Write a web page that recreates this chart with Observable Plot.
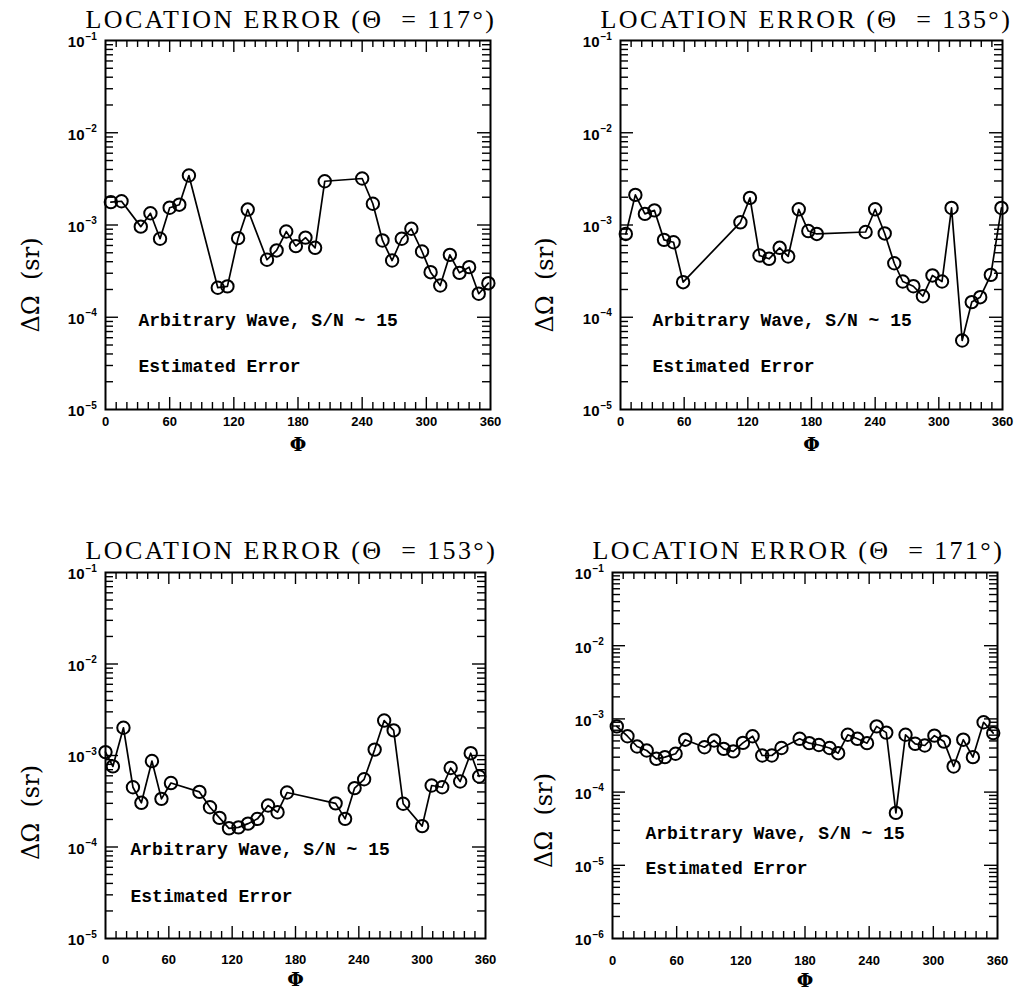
<!DOCTYPE html>
<html><head><meta charset="utf-8">
<script src="https://cdn.jsdelivr.net/npm/d3@7"></script>
<script src="https://cdn.jsdelivr.net/npm/@observablehq/plot@0.6"></script>
<style>
body{margin:0;background:#fff}
#wrap{position:relative;width:1026px;height:993px;background:#fff}
.panel{position:absolute}
</style>
</head><body><div id="wrap"></div>
<script>
// ---- data ----
const thetas = [117, 135, 153, 171];

const phi117 = [5,15,33,42,51,60,69,78,105,114,124,133,151,160,169,178,187,196,205,240,250,259,268,277,286,296,304,313,322,331,340,349,358];
const err117 = [1.77e-3,1.81e-3,9.6e-4,1.34e-3,7.1e-4,1.54e-3,1.66e-3,3.44e-3,2.09e-4,2.16e-4,7.2e-4,1.47e-3,4.2e-4,5.3e-4,8.5e-4,5.9e-4,7.3e-4,5.66e-4,2.98e-3,3.19e-3,1.7e-3,6.8e-4,4.12e-4,7.1e-4,9.1e-4,5.16e-4,3.08e-4,2.21e-4,4.75e-4,3.03e-4,3.49e-4,1.8e-4,2.34e-4];

const phi135 = [5,14,23,32,41,50,59,113,122,131,140,150,158,168,177,185,231,240,249,258,266,276,285,294,303,312,322,331,339,349,359];
const err135 = [8.0e-4,2.12e-3,1.32e-3,1.44e-3,6.9e-4,6.5e-4,2.4e-4,1.07e-3,1.97e-3,4.67e-4,4.3e-4,5.66e-4,4.56e-4,1.48e-3,8.6e-4,8.0e-4,8.4e-4,1.48e-3,8.1e-4,3.85e-4,2.44e-4,2.17e-4,1.69e-4,2.84e-4,2.44e-4,1.53e-3,5.6e-5,1.46e-4,1.65e-4,2.88e-4,1.53e-3];

const phi153 = [0,7,17,26,34,44,53,62,89,99,108,117,126,135,144,154,163,172,218,227,236,245,255,264,273,282,300,309,319,327,336,346,354];
const err153 = [1.09e-3,7.6e-4,2.01e-3,4.5e-4,3.04e-4,8.7e-4,3.36e-4,5.0e-4,4.0e-4,2.72e-4,2.08e-4,1.6e-4,1.64e-4,1.8e-4,2.03e-4,2.84e-4,2.4e-4,3.94e-4,3.0e-4,2.03e-4,4.4e-4,5.5e-4,1.16e-3,2.41e-3,1.88e-3,2.97e-4,1.69e-4,4.7e-4,4.5e-4,7.3e-4,5.2e-4,1.06e-3,5.9e-4];

const phi171 = [4,14,23,32,41,49,59,68,86,95,104,113,122,131,140,149,158,175,184,193,203,211,220,229,238,247,256,265,274,283,292,301,310,319,328,337,347,356];
const err171 = [7.9e-4,5.8e-4,4.2e-4,3.7e-4,2.85e-4,3.0e-4,3.34e-4,5.2e-4,4.1e-4,5.07e-4,3.9e-4,3.6e-4,4.7e-4,5.8e-4,3.16e-4,3.16e-4,4.0e-4,5.35e-4,4.66e-4,4.4e-4,4.0e-4,3.4e-4,6.07e-4,5.35e-4,4.66e-4,7.9e-4,6.5e-4,5.2e-5,6.07e-4,4.57e-4,4.33e-4,5.9e-4,4.9e-4,2.24e-4,5.2e-4,3.0e-4,9.0e-4,6.4e-4];

const xTickLabels = [0, 60, 120, 180, 240, 300, 360];
const xMajorTicks = [60, 120, 180, 240, 300];
const xMinorTicks = [10,20,30,40,50,70,80,90,100,110,130,140,150,160,170,190,200,210,220,230,250,260,270,280,290,310,320,330,340,350];
const decadesA = [1e-1, 1e-2, 1e-3, 1e-4, 1e-5];
const decadesB = [1e-1, 1e-2, 1e-3, 1e-4, 1e-5, 1e-6];
const minorMultipliers = [2,3,4,5,6,7,8,9];

const noteLine1 = "Arbitrary Wave, S/N ~ 15";
const noteLine2 = "Estimated Error";
const yLabel = "ΔΩ\u00A0\u00A0(sr)";
const xLabel = "Φ";
const titleText = t => `LOCATION ERROR (\u0398\u00A0\u00A0= ${t}\u00B0)`;

// ---- panel builder ----
function panel(o) {
  const W = o.width - o.mL - o.mR, H = o.height - o.mT - o.mB;
  const data = o.phi.map((p, i) => ({phi: p, err: o.err[i]}));
  const decs = o.decades;
  const inner = decs.slice(1, -1);
  const minor = [];
  decs.slice(1).forEach(d => minorMultipliers.forEach(m => minor.push(d * m)));
  const exp = d => "\u2212" + Math.round(-Math.log10(d));
  const title = titleText(o.theta);
  const plot = Plot.plot({
    width: o.width, height: o.height,
    marginLeft: o.mL, marginRight: o.mR, marginTop: o.mT, marginBottom: o.mB,
    style: {background: "white", color: "black", fontFamily: "Liberation Sans"},
    x: {domain: [0, 360], axis: null},
    y: {type: "log", domain: [decs[decs.length - 1], decs[0]], axis: null},
    marks: [
      // ticks (inward, all four sides)
      Plot.ruleX(xMinorTicks, {x: d => d, insetTop: H - 7, stroke: "black", strokeWidth: 1.4}),
      Plot.ruleX(xMajorTicks, {x: d => d, insetTop: H - 12, stroke: "black", strokeWidth: 1.4}),
      Plot.ruleX(xMinorTicks, {x: d => d, insetBottom: H - 7, stroke: "black", strokeWidth: 1.4}),
      Plot.ruleX(xMajorTicks, {x: d => d, insetBottom: H - 12, stroke: "black", strokeWidth: 1.4}),
      Plot.ruleY(minor, {y: d => d, insetRight: W - 8, stroke: "black", strokeWidth: 1.4}),
      Plot.ruleY(inner, {y: d => d, insetRight: W - 13, stroke: "black", strokeWidth: 1.4}),
      Plot.ruleY(minor, {y: d => d, insetLeft: W - 8, stroke: "black", strokeWidth: 1.4}),
      Plot.ruleY(inner, {y: d => d, insetLeft: W - 13, stroke: "black", strokeWidth: 1.4}),
      Plot.frame({stroke: "black", strokeWidth: 2}),
      // data
      Plot.line(data, {x: "phi", y: "err", stroke: "black", strokeWidth: 1.7}),
      Plot.dot(data, {x: "phi", y: "err", r: 6.2, stroke: "black", strokeWidth: 2, fill: "none"}),
      // x tick labels
      Plot.text(xTickLabels, {x: d => d, frameAnchor: "bottom", dy: o.tickDy, text: d => String(d),
        fontSize: 13, fontWeight: "bold", fontFamily: "Liberation Sans", textAnchor: "middle", lineAnchor: "middle", fill: "black"}),
      // y tick labels 10^-n
      Plot.text(decs, {y: d => d, frameAnchor: "left", dx: -21, dy: 2, text: () => "10", textAnchor: "end",
        fontSize: 15, fontWeight: "bold", fontFamily: "Liberation Sans", lineAnchor: "middle", fill: "black"}),
      Plot.text(decs, {y: d => d, frameAnchor: "left", dx: -20, dy: -4, text: exp, textAnchor: "start",
        fontSize: 10, fontWeight: "bold", fontFamily: "Liberation Sans", lineAnchor: "middle", fill: "black"}),
      // axis titles
      Plot.text([xLabel], {frameAnchor: "bottom", dy: o.phiDy, text: d => d, fontSize: 19, fontWeight: "bold",
        fontFamily: "DejaVu Serif", textAnchor: "middle", lineAnchor: "middle", fill: "black"}),
      Plot.text([yLabel], {frameAnchor: "left", dx: o.ylabDx, dy: o.ylabDy, rotate: -90, text: d => d, fontSize: 24,
        fontFamily: "DejaVu Serif", textAnchor: "middle", lineAnchor: "middle", fill: "black"}),
      // panel title
      Plot.text([title], {frameAnchor: "top-left", dx: -20, dy: o.titleDy, text: d => d,
        textAnchor: "start", lineAnchor: "middle", fontFamily: "Liberation Serif", fontSize: 26, fill: "black"}),
      // annotations
      Plot.text([noteLine1], {frameAnchor: "top-left", dx: o.noteDx, dy: o.noteDy1, text: d => d, textAnchor: "start",
        lineAnchor: "middle", fontFamily: "Liberation Mono", fontWeight: "bold", fontSize: 18, fill: "black"}),
      Plot.text([noteLine2], {frameAnchor: "top-left", dx: o.noteDx, dy: o.noteDy2, text: d => d, textAnchor: "start",
        lineAnchor: "middle", fontFamily: "Liberation Mono", fontWeight: "bold", fontSize: 18, fill: "black"})
    ]
  });
  d3.select(plot).selectAll("text")
    .filter(function() { return this.textContent === title; })
    .style("letter-spacing", "2.4px");
  const div = document.createElement("div");
  div.className = "panel";
  div.style.left = o.left + "px";
  div.style.top = o.top + "px";
  div.appendChild(plot);
  document.getElementById("wrap").appendChild(div);
}

panel({phi: phi117, err: err117, theta: thetas[0], decades: decadesA,
  left: 0, top: 0, width: 513, height: 470, mL: 105, mR: 23, mT: 40, mB: 61,
  tickDy: 12, phiDy: 35, titleDy: -21, ylabDx: -74, ylabDy: 60, noteDx: 33, noteDy1: 280, noteDy2: 326});
panel({phi: phi135, err: err135, theta: thetas[1], decades: decadesA,
  left: 513, top: 0, width: 513, height: 470, mL: 107, mR: 24, mT: 40, mB: 61,
  tickDy: 12, phiDy: 35, titleDy: -21, ylabDx: -75, ylabDy: 60, noteDx: 32, noteDy1: 280, noteDy2: 326});
panel({phi: phi153, err: err153, theta: thetas[2], decades: decadesA,
  left: 0, top: 500, width: 513, height: 493, mL: 105, mR: 28, mT: 72, mB: 55,
  tickDy: 21, phiDy: 41, titleDy: -22, ylabDx: -74, ylabDy: 57, noteDx: 25, noteDy1: 277, noteDy2: 324});
panel({phi: phi171, err: err171, theta: thetas[3], decades: decadesB,
  left: 513, top: 500, width: 513, height: 493, mL: 99, mR: 29, mT: 72, mB: 55,
  tickDy: 22, phiDy: 42, titleDy: -22, ylabDx: -68, ylabDy: 65, noteDx: 33, noteDy1: 261, noteDy2: 296});
</script></body></html>
